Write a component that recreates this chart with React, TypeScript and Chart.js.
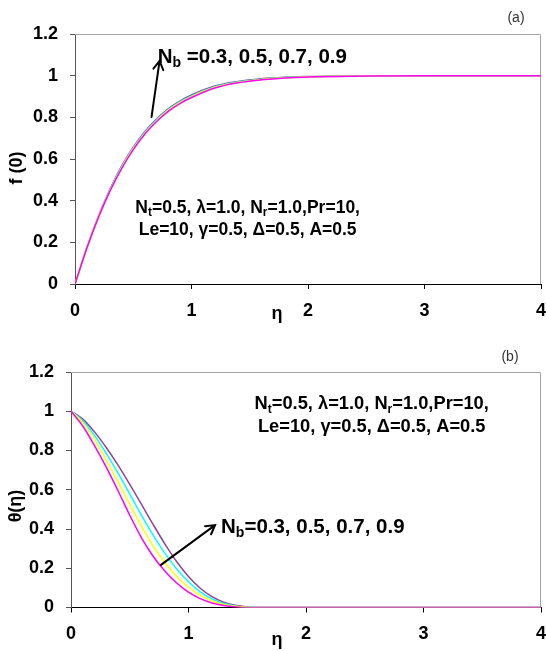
import React, { useEffect, useRef } from "react";
import { Chart, registerables } from "chart.js";

Chart.register(...registerables);

const FONT = '"Liberation Sans", Arial, Helvetica, sans-serif';

// ---------- Panel (a): f'(eta) ----------
const etaA = [0, 0.1, 0.2, 0.3, 0.4, 0.5, 0.6, 0.7, 0.8, 0.9, 1.0, 1.2, 1.4, 1.6, 1.8, 2.0, 2.5, 3, 4];
const fA_Nb03 = [0, 0.169, 0.318, 0.446, 0.554, 0.645, 0.72, 0.78, 0.829, 0.866, 0.895, 0.941, 0.966, 0.98, 0.989, 0.994, 0.998, 1, 1];
const fA_Nb05 = [0, 0.17, 0.32, 0.449, 0.558, 0.649, 0.724, 0.784, 0.833, 0.87, 0.899, 0.944, 0.968, 0.982, 0.99, 0.995, 0.999, 1, 1];
const fA_Nb07 = [0, 0.171, 0.322, 0.452, 0.562, 0.653, 0.728, 0.788, 0.837, 0.874, 0.903, 0.947, 0.97, 0.983, 0.991, 0.995, 0.999, 1, 1];
const fA_Nb09 = [0, 0.172, 0.324, 0.455, 0.566, 0.657, 0.732, 0.792, 0.841, 0.878, 0.907, 0.95, 0.972, 0.985, 0.992, 0.996, 0.999, 1, 1];

// ---------- Panel (b): theta(eta) ----------
const etaB = [0, 0.1, 0.2, 0.3, 0.4, 0.5, 0.6, 0.7, 0.8, 0.9, 1.0, 1.1, 1.2, 1.3, 1.4, 1.5, 1.6, 2, 3, 4];
const thB_Nb03 = [1.0, 0.925, 0.825, 0.715, 0.595, 0.47, 0.355, 0.26, 0.185, 0.125, 0.078, 0.045, 0.023, 0.01, 0.003, 0, 0, 0, 0, 0];
const thB_Nb05 = [1.0, 0.942, 0.855, 0.75, 0.64, 0.525, 0.413, 0.313, 0.228, 0.158, 0.103, 0.062, 0.034, 0.016, 0.006, 0.001, 0, 0, 0, 0];
const thB_Nb07 = [1.0, 0.952, 0.877, 0.785, 0.685, 0.578, 0.47, 0.368, 0.276, 0.196, 0.131, 0.08, 0.044, 0.021, 0.008, 0.002, 0, 0, 0, 0];
const thB_Nb09 = [1.0, 0.96, 0.895, 0.815, 0.725, 0.627, 0.525, 0.422, 0.323, 0.233, 0.158, 0.098, 0.055, 0.027, 0.011, 0.003, 0, 0, 0, 0];

const seriesNames = ["Nb=0.3", "Nb=0.5", "Nb=0.7", "Nb=0.9"];
const seriesColors = ["#ff00ff", "#ffff00", "#00ffff", "#8e44a0"];

const xTicks = [0, 1, 2, 3, 4];
const xTickLabels = ["0", "1", "2", "3", "4"];
const yTicks = [0, 0.2, 0.4, 0.6, 0.8, 1.0, 1.2];
const yTickLabels = ["0", "0.2", "0.4", "0.6", "0.8", "1", "1.2"];

type Run = { t: string; sub?: boolean };

function drawRuns(ctx: CanvasRenderingContext2D, runs: Run[], x: number, y: number, size: number, align: "left" | "center") {
  const main = `bold ${size}px ${FONT}`;
  const subSize = Math.round(size * 0.68);
  const subF = `bold ${subSize}px ${FONT}`;
  let total = 0;
  const widths = runs.map((r) => {
    ctx.font = r.sub ? subF : main;
    const w = ctx.measureText(r.t).width;
    total += w;
    return w;
  });
  let cx = align === "center" ? x - total / 2 : x;
  ctx.textAlign = "left";
  ctx.textBaseline = "alphabetic";
  ctx.fillStyle = "#000";
  runs.forEach((r, i) => {
    ctx.font = r.sub ? subF : main;
    ctx.fillText(r.t, cx, r.sub ? y + size * 0.2 : y);
    cx += widths[i];
  });
}

function drawArrow(ctx: CanvasRenderingContext2D, x1: number, y1: number, x2: number, y2: number) {
  ctx.save();
  ctx.strokeStyle = "#000";
  ctx.lineWidth = 2;
  ctx.lineCap = "round";
  ctx.beginPath();
  ctx.moveTo(x1, y1);
  ctx.lineTo(x2, y2);
  const a = Math.atan2(y2 - y1, x2 - x1);
  const L = 10;
  const sp = Math.PI / 6;
  ctx.moveTo(x2 - L * Math.cos(a - sp), y2 - L * Math.sin(a - sp));
  ctx.lineTo(x2, y2);
  ctx.lineTo(x2 - L * Math.cos(a + sp), y2 - L * Math.sin(a + sp));
  ctx.stroke();
  ctx.restore();
}

const paramLine1: Run[] = [
  { t: "N" }, { t: "t", sub: true }, { t: "=0.5, λ=1.0, N" }, { t: "r", sub: true }, { t: "=1.0,Pr=10," },
];
const paramLine2: Run[] = [{ t: "Le=10, γ=0.5, Δ=0.5, A=0.5" }];

type PanelSpec = {
  eta: number[];
  series: number[][];
  h: number;
  area: { left: number; top: number; right: number; bottom: number };
  yTitle: string;
  yTitlePos: [number, number];
  etaPos: [number, number];
  tag: string;
  tagPos: [number, number];
  nb: { runs: Run[]; x: number; y: number; size: number };
  arrow: [number, number, number, number];
  params: { x: number; y1: number; y2: number; size: number };
};

const panelA: PanelSpec = {
  eta: etaA,
  series: [fA_Nb03, fA_Nb05, fA_Nb07, fA_Nb09],
  h: 325,
  area: { left: 75, top: 34, right: 541, bottom: 284 },
  yTitle: "f (0)",
  yTitlePos: [17, 168],
  etaPos: [277, 314],
  tag: "(a)",
  tagPos: [516, 18],
  nb: { runs: [{ t: "N" }, { t: "b", sub: true }, { t: " =0.3, 0.5, 0.7, 0.9" }], x: 0.71, y: 1.061, size: 20.5 },
  arrow: [0.657, 0.802, 0.726, 1.071],
  params: { x: 1.482, y1: 0.343, y2: 0.233, size: 17.5 },
};

const panelB: PanelSpec = {
  eta: etaB,
  series: [thB_Nb03, thB_Nb05, thB_Nb07, thB_Nb09],
  h: 326,
  area: { left: 71, top: 47, right: 541, bottom: 282.5 },
  yTitle: "θ(η)",
  yTitlePos: [16, 181],
  etaPos: [277, 315],
  tag: "(b)",
  tagPos: [510, 32],
  nb: { runs: [{ t: "N" }, { t: "b", sub: true }, { t: "=0.3, 0.5, 0.7, 0.9" }], x: 1.277, y: 0.38, size: 20.5 },
  arrow: [0.766, 0.217, 1.226, 0.42],
  params: { x: 2.559, y1: 1.011, y2: 0.896, size: 18.3 },
};

function makeConfig(p: PanelSpec): any {
  const W = 546;
  const datasets = p.series.map((vals, i) => ({
    label: seriesNames[i],
    data: p.eta.map((x, j) => ({ x, y: vals[j] })),
    borderColor: seriesColors[i],
    backgroundColor: seriesColors[i],
    borderWidth: 1.5,
    pointRadius: 0,
    fill: false,
    cubicInterpolationMode: "monotone",
  }));

  const deco = {
    id: "deco",
    beforeDatasetsDraw(chart: any) {
      const { ctx, chartArea } = chart;
      ctx.save();
      ctx.strokeStyle = "#a6a6a6";
      ctx.lineWidth = 1;
      ctx.beginPath();
      ctx.moveTo(chartArea.left, chartArea.top + 0.5);
      ctx.lineTo(chartArea.right - 0.5, chartArea.top + 0.5);
      ctx.lineTo(chartArea.right - 0.5, chartArea.bottom);
      ctx.stroke();
      ctx.restore();
    },
    afterDraw(chart: any) {
      const { ctx } = chart;
      const xs = chart.scales.x;
      const ys = chart.scales.y;
      ctx.save();
      // y title
      ctx.save();
      ctx.translate(p.yTitlePos[0], p.yTitlePos[1]);
      ctx.rotate(-Math.PI / 2);
      ctx.font = `bold 18px ${FONT}`;
      ctx.fillStyle = "#000";
      ctx.textAlign = "center";
      ctx.textBaseline = "middle";
      ctx.fillText(p.yTitle, 0, 0);
      ctx.restore();
      // eta title
      ctx.font = `bold 18px ${FONT}`;
      ctx.fillStyle = "#000";
      ctx.textAlign = "center";
      ctx.textBaseline = "middle";
      ctx.fillText("η", p.etaPos[0], p.etaPos[1]);
      // panel tag
      ctx.font = `14px ${FONT}`;
      ctx.fillStyle = "#333";
      ctx.fillText(p.tag, p.tagPos[0], p.tagPos[1]);
      // Nb label
      drawRuns(ctx, p.nb.runs, xs.getPixelForValue(p.nb.x), ys.getPixelForValue(p.nb.y), p.nb.size, "left");
      // arrow
      drawArrow(
        ctx,
        xs.getPixelForValue(p.arrow[0]),
        ys.getPixelForValue(p.arrow[1]),
        xs.getPixelForValue(p.arrow[2]),
        ys.getPixelForValue(p.arrow[3])
      );
      // parameter block
      const px = xs.getPixelForValue(p.params.x);
      drawRuns(ctx, paramLine1, px, ys.getPixelForValue(p.params.y1), p.params.size, "center");
      drawRuns(ctx, paramLine2, px, ys.getPixelForValue(p.params.y2), p.params.size, "center");
      ctx.restore();
    },
  };

  const tickFont = { family: FONT, size: 18, weight: "bold" as const };

  return {
    type: "line",
    data: { datasets },
    options: {
      responsive: false,
      animation: false,
      events: [],
      layout: { padding: { left: 0, top: p.area.top, right: W - p.area.right, bottom: 0 } },
      plugins: { legend: { display: false }, tooltip: { enabled: false }, title: { display: false } },
      scales: {
        x: {
          type: "linear",
          min: 0,
          max: 4,
          afterBuildTicks: (s: any) => {
            s.ticks = xTicks.map((v) => ({ value: v }));
          },
          ticks: {
            color: "#000",
            font: tickFont,
            padding: 11,
            maxRotation: 0,
            autoSkip: false,
            callback: (_v: any, i: number) => xTickLabels[i],
          },
          grid: { drawOnChartArea: false, drawTicks: true, tickLength: 5, color: "#000" },
          border: { display: true, color: "#000", width: 1 },
          afterFit: (s: any) => {
            s.height = p.h - p.area.bottom;
            s.paddingLeft = 0;
            s.paddingRight = 0;
          },
        },
        y: {
          type: "linear",
          min: 0,
          max: 1.2,
          afterBuildTicks: (s: any) => {
            s.ticks = yTicks.map((v) => ({ value: v }));
          },
          ticks: {
            color: "#000",
            font: tickFont,
            padding: 12,
            autoSkip: false,
            callback: (_v: any, i: number) => yTickLabels[i],
          },
          grid: { drawOnChartArea: false, drawTicks: true, tickLength: 5, color: "#555" },
          border: { display: true, color: "#555", width: 1 },
          afterFit: (s: any) => {
            s.width = p.area.left;
            s.paddingTop = 0;
            s.paddingBottom = 0;
          },
        },
      },
    },
    plugins: [deco],
  };
}

function Panel({ spec, top }: { spec: PanelSpec; top: number }) {
  const ref = useRef<HTMLCanvasElement>(null);
  useEffect(() => {
    const chart = new Chart(ref.current as HTMLCanvasElement, makeConfig(spec));
    return () => chart.destroy();
  }, [spec]);
  return (
    <div style={{ position: "absolute", left: 0, top, width: 546, height: spec.h }}>
      <canvas ref={ref} width={546} height={spec.h} style={{ display: "block", width: 546, height: spec.h }} />
    </div>
  );
}

export default function App() {
  return (
    <div style={{ position: "absolute", left: 0, top: 0, width: 546, height: 651, background: "#fff", overflow: "hidden" }}>
      <Panel spec={panelA} top={0} />
      <Panel spec={panelB} top={325} />
    </div>
  );
}
